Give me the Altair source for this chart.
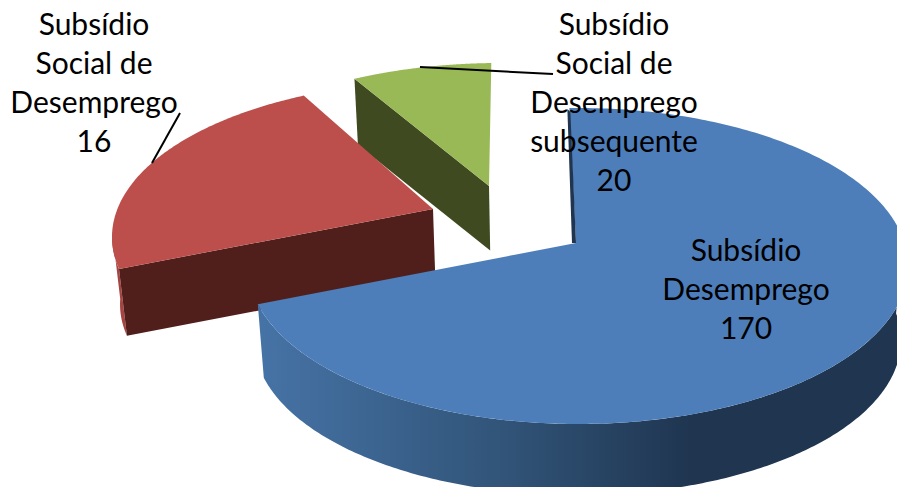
import numpy as np
import pandas as pd
import altair as alt

# ---- chart content ----
categories = ["Subsídio Desemprego", "Subsídio Social de Desemprego", "Subsídio Social de Desemprego subsequente"]
values = [170, 16, 20]
label_lines = [["Subsídio", "Desemprego"], ["Subsídio", "Social de", "Desemprego"],
               ["Subsídio", "Social de", "Desemprego", "subsequente"]]
label_x = [746, 94, 614]
label_y = [261, 34.5, 35]
line_step = 39.1
leader_x = [180, 420]
leader_y = [113, 67]
leader_x2 = [152, 553]
leader_y2 = [163, 74]

# slice geometry (degrees clockwise from the back of the pie, as drawn)
blue = dict(c=(578, 266), a=330, b=158, t0=-1.5, t1=256, apex=(576, 243), s=0.98)
red = dict(c=(444, 237), a=332, b=156, t0=-25, t1=-101.8, apex=(433, 209), s=0.982)
green = dict(c=(500, 219), a=332, b=156, t0=-1.5, t1=-26, apex=(489, 186), s=0.983)
vanish = (558, 3980)

BLUE, RED, GREEN = "#4d7eba", "#bc4f4c", "#99b957"
RED_WALL, GREEN_WALL, BLUE_WALL = "#501f1c", "#3f4a20", "#1f3550"


def rim(p, t0, t1, n=160):
    t = np.radians(np.linspace(t0, t1, n))
    return np.column_stack([p["c"][0] + p["a"] * np.sin(t), p["c"][1] - p["b"] * np.cos(t)])


def drop(pts, s):
    v = np.array(vanish, float)
    return v + s * (np.asarray(pts, float) - v)


def shape(pts, fill):
    ring = [[float(x), float(y)] for x, y in pts]
    ring.append(ring[0])
    feat = {"type": "Feature", "properties": {}, "geometry": {"type": "Polygon", "coordinates": [ring]}}
    return alt.Chart(alt.Data(values=[feat])).mark_geoshape(fill=fill, strokeWidth=0, stroke="transparent").project(
        type="identity", scale=1, translate=[-8, -8])


layers = []
# green
g_rim = rim(green, green["t0"], green["t1"])
g_ap = np.array([green["apex"]], float)
layers.append(shape(np.vstack([g_rim[-1:], g_ap, drop(g_ap, green["s"]), drop(g_rim[-1:], green["s"])]), GREEN_WALL))
layers.append(shape(np.vstack([g_rim, g_ap]), GREEN))
# red
r_rim = rim(red, red["t0"], red["t1"])
r_ap = np.array([red["apex"]], float)
r_out = rim(red, -88, red["t1"])
layers.append(shape(np.vstack([r_out, drop(r_out, red["s"])[::-1]]), "#a64441"))
layers.append(shape(np.vstack([r_rim[-1:], r_ap, drop(r_ap, red["s"]), drop(r_rim[-1:], red["s"])]), RED_WALL))
layers.append(shape(np.vstack([r_rim, r_ap]), RED))
# blue
b_out = rim(blue, 80, blue["t1"], 240)
side_fill = alt.LinearGradient(
    gradient="linear", x1=1, y1=0, x2=0, y2=0,
    stops=[alt.GradientStop(offset=0, color="#1f3550"), alt.GradientStop(offset=0.33, color="#1f3550"),
           alt.GradientStop(offset=0.62, color="#315478"), alt.GradientStop(offset=1, color="#4673a6")])
layers.append(shape(np.vstack([b_out, drop(b_out, blue["s"])[::-1]]), side_fill))
b_rim = rim(blue, blue["t0"], blue["t1"], 320)
b_ap = np.array([blue["apex"]], float)
layers.append(shape(np.vstack([b_rim, b_ap]), BLUE))
layers.append(shape(np.vstack([b_rim[:1] + [-2, 1], b_rim[:1] + [1, 4], b_ap, b_ap + [-4, 0]]), BLUE_WALL))

x_sc = alt.Scale(domain=[8, 897], range=[0, 889])
y_sc = alt.Scale(domain=[8, 487], range=[0, 479])

leaders = pd.DataFrame({"x": leader_x, "y": leader_y, "x2": leader_x2, "y2": leader_y2})
layers.append(alt.Chart(leaders).mark_rule(color="#000000", strokeWidth=2).encode(
    x=alt.X("x:Q", scale=x_sc, axis=None), y=alt.Y("y:Q", scale=y_sc, axis=None), x2="x2:Q", y2="y2:Q"))

rows = []
for lines, v, lx, ly in zip(label_lines, values, label_x, label_y):
    for i, t in enumerate(lines + [str(v)]):
        rows.append({"t": t, "x": lx, "y": ly + i * line_step})
layers.append(alt.Chart(pd.DataFrame(rows)).mark_text(
    font="Lato", fontSize=30, color="#000000", align="center", baseline="alphabetic").encode(
    x=alt.X("x:Q", scale=x_sc, axis=None), y=alt.Y("y:Q", scale=y_sc, axis=None), text="t:N"))

chart = alt.layer(*layers).properties(width=889, height=479, padding=0, background="#ffffff").configure_view(stroke=None)
chart.save("out.html", embed_options={"renderer": "svg", "actions": False})
